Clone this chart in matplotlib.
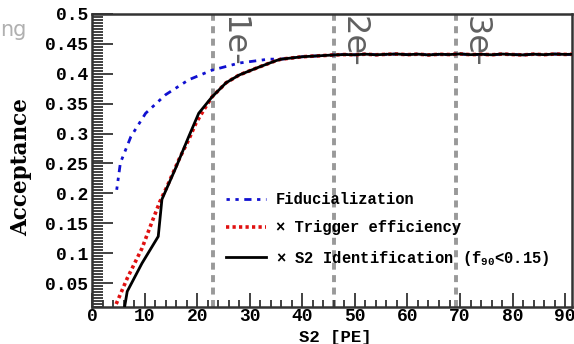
import matplotlib
matplotlib.use("Agg")
import matplotlib.pyplot as plt
from matplotlib.ticker import MultipleLocator

# ---------------------------------------------------------------------------
# Data
# ---------------------------------------------------------------------------

# shared plateau (all three curves sit on top of each other here)
plateau_x = [36, 38, 40, 42, 44, 46, 48, 50, 52, 54, 56, 58, 60, 62, 64, 66,
             68, 70, 72, 74, 76, 78, 80, 82, 84, 86, 88, 90, 91.3]
plateau_y = [0.4245, 0.4265, 0.4285, 0.4295, 0.4305, 0.4315, 0.4322, 0.4318,
             0.4328, 0.4318, 0.4326, 0.4330, 0.4320, 0.4328, 0.4316, 0.4326,
             0.4322, 0.4332, 0.4320, 0.4326, 0.4318, 0.4330, 0.4322, 0.4316,
             0.4328, 0.4320, 0.4330, 0.4324, 0.4326]

fid_x = [4.7, 5.4, 7.4, 10.2, 14.0, 18.4, 22.8, 28.0, 33.6]
fid_y = [0.206, 0.251, 0.295, 0.334, 0.365, 0.390, 0.406, 0.418, 0.4245]

trig_x = [4.6, 6.7, 9.5, 11.4, 12.9, 14.3, 16.5, 18.4, 19.8, 21.5, 22.8, 25.5,
          28.0, 31.7, 35.0]
trig_y = [0.015, 0.058, 0.108, 0.152, 0.186, 0.212, 0.256, 0.290, 0.318, 0.343,
          0.361, 0.385, 0.398, 0.411, 0.422]

s2id_x = [6.2, 6.7, 9.5, 12.6, 13.3, 16.0, 18.4, 20.3, 22.8, 25.5, 28.0,
          31.7, 35.0]
s2id_y = [0.010, 0.036, 0.083, 0.128, 0.190, 0.244, 0.295, 0.334, 0.361,
          0.385, 0.398, 0.411, 0.422]

electron_pe = [23.0, 46.0, 69.2]
electron_labels = ["1e-", "2e-", "3e-"]

legend_labels = ["Fiducialization", "\u00d7 Trigger efficiency",
                 "\u00d7 S2 Identification (f$_{90}$<0.15)"]

# ---------------------------------------------------------------------------
# Plot
# ---------------------------------------------------------------------------

mono = "Liberation Mono"
plt.rcParams["font.family"] = mono
plt.rcParams["font.weight"] = "bold"
plt.rcParams["axes.labelweight"] = "bold"
plt.rcParams["mathtext.fontset"] = "custom"
plt.rcParams["mathtext.rm"] = "Liberation Mono:bold"
plt.rcParams["mathtext.default"] = "rm"

fig = plt.figure(figsize=(5.74, 3.44), dpi=100)
ax = fig.add_axes([92 / 574, 1 - 307 / 344, (572 - 92) / 574, (307 - 14) / 344])

for xv in electron_pe:
    ax.axvline(xv, color="#999999", lw=2.8, ls=(0, (1.8, 1.4)), zorder=1)
for xv, lab in zip(electron_pe, electron_labels):
    ax.text(xv + 0.8, 0.496, lab, rotation=-90, ha="left", va="top",
            fontsize=23, color="#606060", family="DejaVu Sans",
            fontweight="normal", zorder=2)

ax.plot(fid_x + plateau_x, fid_y + plateau_y, color="#1010d0", lw=2.0,
        ls=(0, (1.2, 2.0, 1.2, 2.0, 2.6, 2.0)), label=legend_labels[0], zorder=3)
ax.plot(trig_x + plateau_x, trig_y + plateau_y, color="#e01010", lw=2.6,
        ls=(0, (0.9, 0.9)), label=legend_labels[1], zorder=4)
ax.plot(s2id_x + plateau_x, s2id_y + plateau_y, color="black", lw=2.0,
        label=legend_labels[2], zorder=5)

ax.set_xlim(0, 91.3)
ax.set_ylim(0.01, 0.5)
ax.xaxis.set_major_locator(MultipleLocator(10))
ax.xaxis.set_minor_locator(MultipleLocator(2))
ax.yaxis.set_minor_locator(MultipleLocator(0.005))
ax.set_yticks([0.05, 0.1, 0.15, 0.2, 0.25, 0.3, 0.35, 0.4, 0.45, 0.5])
ax.set_yticklabels(["0.05", "0.1", "0.15", "0.2", "0.25", "0.3", "0.35",
                    "0.4", "0.45", "0.5"])
ax.tick_params(axis="both", which="both", direction="in", top=False,
               right=False, labelsize=13, width=1.3, color="#333333")
ax.tick_params(axis="y", which="major", length=15, pad=3)
ax.tick_params(axis="y", which="minor", length=8)
ax.tick_params(axis="x", which="major", length=10, pad=1)
ax.tick_params(axis="x", which="minor", length=5)
for s in ax.spines.values():
    s.set_linewidth(1.8)
    s.set_color("#333333")

ax.set_xlabel("S2 [PE]", fontsize=12.5, fontweight="bold", labelpad=3,
              x=0.506)
ax.set_ylabel("Acceptance", fontsize=15.5, family="DejaVu Serif",
              fontweight="bold")
ax.yaxis.set_label_coords(-0.125, 0.478)

leg = ax.legend(loc="upper left", bbox_to_anchor=(0.25, 0.44), frameon=False,
                fontsize=11.2, handlelength=2.6, handletextpad=0.6,
                labelspacing=0.85)

fig.text(0.0, 1 - 36 / 344, "ng", fontsize=15, color="#b0b0b0",
         family="DejaVu Sans", fontweight="normal", ha="left")

fig.savefig("out.png", dpi=100)
